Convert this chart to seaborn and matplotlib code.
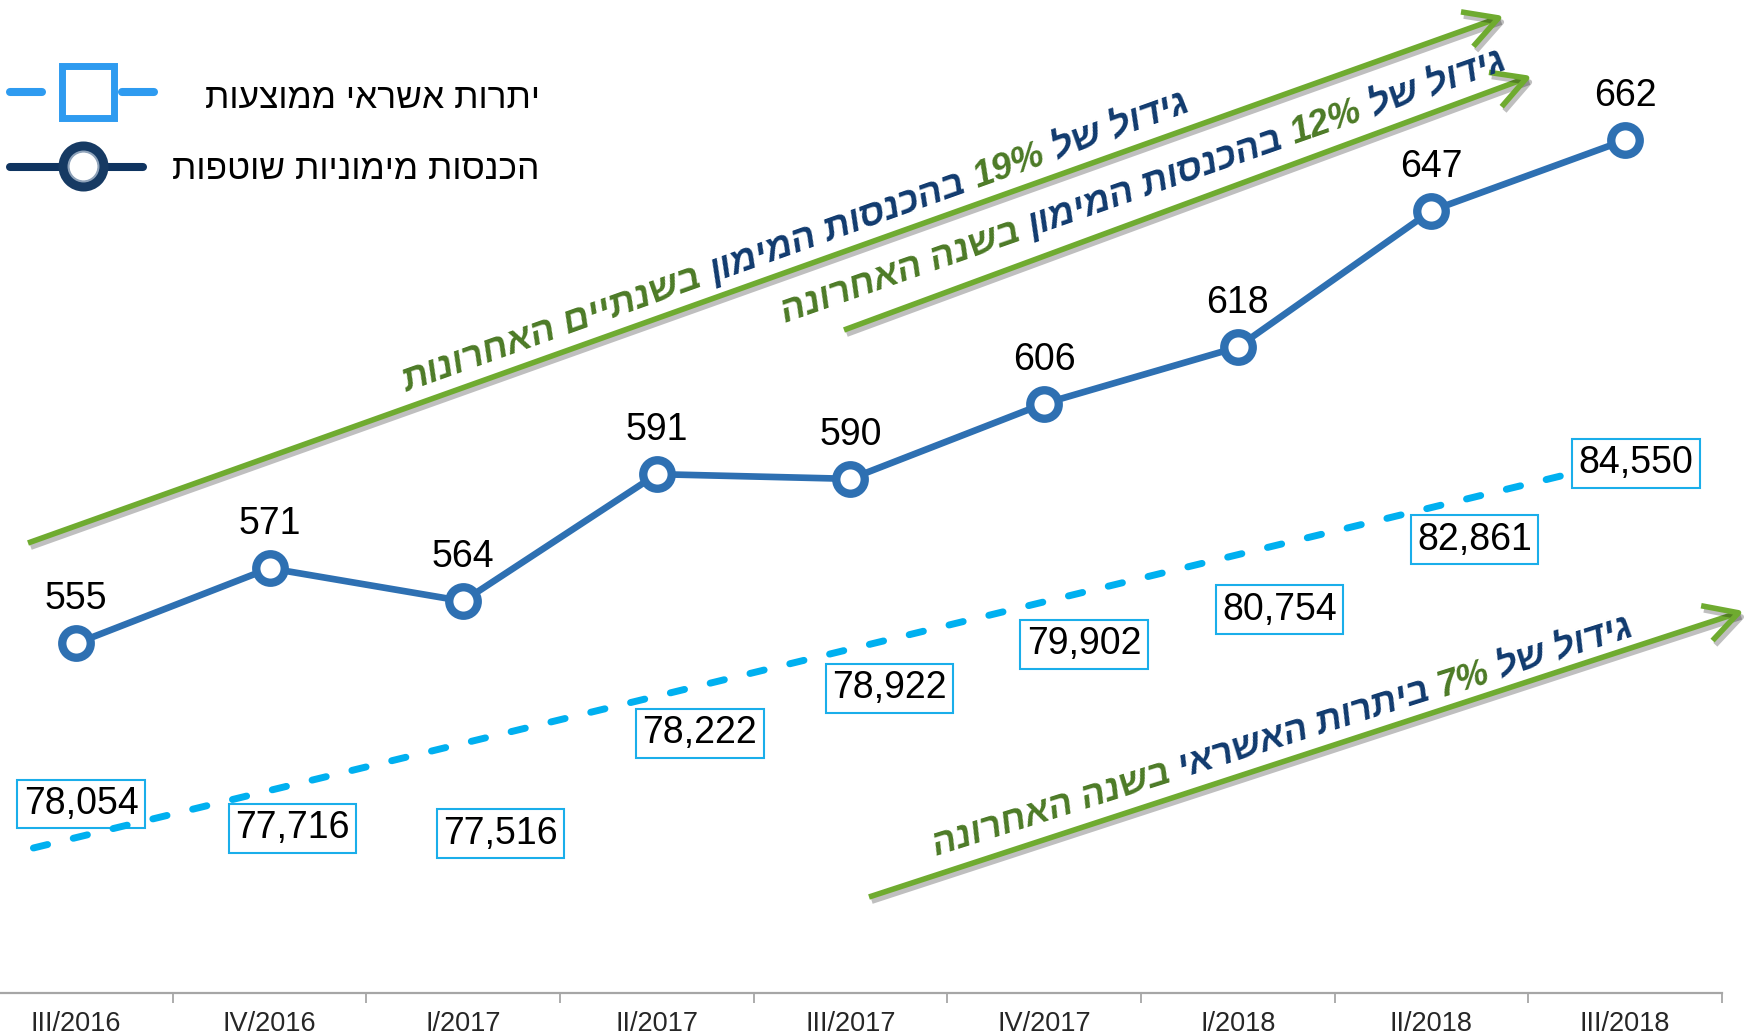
import numpy as np
import pandas as pd
import matplotlib
matplotlib.use("Agg")
import matplotlib.pyplot as plt
import matplotlib.patheffects as pe
from matplotlib.lines import Line2D
from matplotlib.transforms import IdentityTransform
import seaborn as sns

# ---------------- data ----------------
categories = ['III/2016', 'IV/2016', 'I/2017', 'II/2017', 'III/2017',
              'IV/2017', 'I/2018', 'II/2018', 'III/2018']
income = [555, 571, 564, 591, 590, 606, 618, 647, 662]
credit = [78054, 77716, 77516, 78222, 78922, 79902, 80754, 82861, 84550]

legend_credit = 'יתרות אשראי ממוצעות'
legend_income = 'הכנסות מימוניות שוטפות'

note1 = [('גידול של', 'navy'), ('19%', 'green'), ('בהכנסות המימון', 'navy'), ('בשנתיים האחרונות', 'green')]
note2 = [('גידול של', 'navy'), ('12%', 'green'), ('בהכנסות המימון', 'navy'), ('בשנה האחרונה', 'green')]
note3 = [('גידול של', 'navy'), ('7%', 'green'), ('ביתרות האשראי', 'navy'), ('בשנה האחרונה', 'green')]

# ---------------- styles / layout ----------------
W, H, DPI = 1747, 1036, 100
LINE_C = '#2E70B2'
DASH_C = '#00B0F0'
BOX_C = '#1AAEEA'
NAVY = '#103A6E'
GREEN_T = '#4C7A26'
ARROW_C = '#6FAB30'
SPINE_C = '#A6A6A6'
COLORS = {'navy': NAVY, 'green': GREEN_T}

# credit label offsets (pixels, right / down) relative to their points
lab_dx = [5, 23, 37, 43, 39, 40, 42, 43, 11]
lab_dy = [43, 48, 42, -18, -23, -11, 3, 53, 73]
TREND_SHIFT = -0.22

sns.set_style('white')
plt.rcParams['font.family'] = ['Liberation Sans', 'DejaVu Sans']

fig = plt.figure(figsize=(W / DPI, H / DPI), dpi=DPI)
ax = fig.add_axes([-20.8 / W, 43 / H, 1742.6 / W, 993 / H])
ax.patch.set_alpha(0)

idx = np.arange(len(categories))
df = pd.DataFrame({'idx': idx, 'income': income, 'credit': credit})

sns.lineplot(data=df, x='idx', y='income', ax=ax, color=LINE_C, lw=4.8,
             marker='o', ms=20.5, mfc='white', mec=LINE_C, mew=6, zorder=5)
ax.set_xlim(-0.5, 8.5)
ax.set_ylim(480.7, 691.8)
ax.set_xlabel('')
ax.set_ylabel('')
ax.set_yticks([])
ax.set_xticks(idx)
ax.set_xticklabels(categories, family=['Liberation Sans Narrow', 'Liberation Sans'],
                   fontsize=19.5)
ax.set_xticks(idx + 0.5, minor=True)
ax.tick_params(axis='x', which='major', length=0, pad=13)
ax.tick_params(axis='x', which='minor', bottom=True, length=7, width=1.3,
               color=SPINE_C, direction='out')
for s in ['left', 'top', 'right']:
    ax.spines[s].set_visible(False)
ax.spines['bottom'].set_color(SPINE_C)
ax.spines['bottom'].set_linewidth(1.6)

for i, v in enumerate(income):
    ax.annotate(str(v), xy=(i, v), xytext=(0, 34), textcoords='offset pixels',
                ha='center', va='baseline', fontsize=27, color='black', zorder=6)

# secondary axis: credit balances with linear trendline
ax2 = ax.twinx()
ax2.set_ylim(73987, 91387)
ax2.set_yticks([])
for s in ax2.spines.values():
    s.set_visible(False)
fit = np.polyfit(idx, credit, 1)
xs = np.array([0.0, 8.0])
ax2.plot(xs + TREND_SHIFT, np.polyval(fit, xs), color=DASH_C, lw=5,
         dashes=(2.1, 3.8), dash_capstyle='round', zorder=3)
for i, v in enumerate(credit):
    ax2.annotate(f'{v:,}', xy=(i, v), xytext=(lab_dx[i], -lab_dy[i]),
                 textcoords='offset pixels', ha='center', va='center',
                 fontsize=27, color='black', zorder=2,
                 bbox=dict(boxstyle='square,pad=0.17', fc='none', ec=BOX_C, lw=1.5))


# ---------------- helpers for Hebrew (RTL) text ----------------
def is_heb(w):
    return any('\u0590' <= ch <= '\u05FF' for ch in w)


def vis(s):
    words = s.split(' ')
    return ' '.join(w[::-1] if is_heb(w) else w for w in reversed(words))


renderer = fig.canvas.get_renderer()


def text_width(s, size, **kw):
    t = fig.text(0, 0, s, fontsize=size, **kw)
    w = t.get_window_extent(renderer).width
    t.remove()
    return w


def rich_text(segments, start, angle, length, **kw):
    segs = [(vis(t), COLORS[c]) for t, c in reversed(segments)]
    full = ' '.join(s for s, _ in segs)
    base = 24.0
    size = base * length / text_width(full, base, **kw)
    a = np.deg2rad(angle)
    x0, y0 = start[0], H - start[1]
    prefix = ''
    for s, c in segs:
        off = text_width(prefix + s, size, **kw) - text_width(s, size, **kw) if prefix else 0.0
        fig.text(x0 + off * np.cos(a), y0 + off * np.sin(a), s, color=c,
                 fontsize=size, rotation=angle, rotation_mode='anchor',
                 ha='left', va='baseline', transform=IdentityTransform(), **kw)
        prefix = prefix + s + ' '


# ---------------- arrows ----------------
arrows = [((28, 543), (1504, 16)), ((844, 330), (1532, 76)), ((869, 897), (1744, 611))]
for (x0, y0), (x1, y1) in arrows:
    ax.annotate('', xy=(x1, H - y1), xycoords='figure pixels',
                xytext=(x0, H - y0), textcoords='figure pixels',
                annotation_clip=False,
                arrowprops=dict(arrowstyle='->,head_length=1.0,head_width=0.55',
                                lw=4.0, color=ARROW_C, mutation_scale=24,
                                shrinkA=0, shrinkB=0, capstyle='butt',
                                path_effects=[pe.SimpleLineShadow(offset=(2, -3), shadow_color='k', alpha=0.25),
                                              pe.Normal()]))

font_kw = dict(fontweight='bold', fontstyle='italic')
rich_text(note1, (407, 392), 19.65, 834, **font_kw)
rich_text(note2, (785, 323), 19.3, 769, **font_kw)
rich_text(note3, (936, 856), 17.5, 734, **font_kw)

# ---------------- legend (manual, RTL) ----------------
LEG1 = '#2E9BF0'
LEG2 = '#0F3460'
T = IdentityTransform()
fig.add_artist(Line2D([10, 42], [H - 92, H - 92], color=LEG1, lw=5.8, transform=T))
fig.add_artist(Line2D([122, 154], [H - 92, H - 92], color=LEG1, lw=5.8, transform=T))
fig.add_artist(Line2D([88], [H - 92], marker='s', ms=37, mfc='white', mec=LEG1,
                      mew=5, ls='none', transform=T))
fig.add_artist(Line2D([10, 143], [H - 167, H - 167], color=LEG2, lw=5.8, transform=T))
fig.add_artist(Line2D([83], [H - 166], marker='o', ms=28.5, mfc='white', mec='#163A63',
                      mew=7.5, ls='none', transform=T))
fig.add_artist(Line2D([83], [H - 166], marker='o', ms=21.5, mfc='none', mec='#8FA3BA',
                      mew=1.5, ls='none', transform=T))

leg_size = 24.0 * 336 / text_width(vis(legend_credit), 24.0)
fig.text(540, H - 108, vis(legend_credit), fontsize=leg_size, ha='right', va='baseline',
         transform=T, color='black')
fig.text(540, H - 179, vis(legend_income), fontsize=leg_size, ha='right', va='baseline',
         transform=T, color='black')

fig.savefig('out.png', dpi=DPI)
